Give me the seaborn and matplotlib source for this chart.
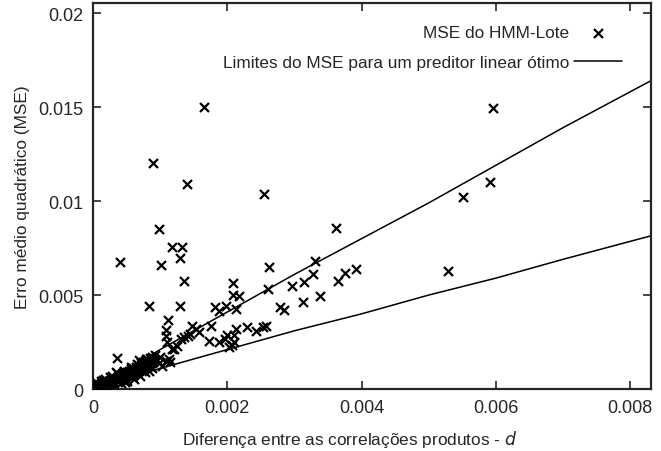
import numpy as np
import pandas as pd
import matplotlib
matplotlib.use("Agg")
import matplotlib.pyplot as plt
import seaborn as sns

# MSE do HMM-Lote (units of 1e-3)
cluster_x = [0.01, 0.02, 0.03, 0.04, 0.05, 0.06, 0.07, 0.08, 0.10, 0.11,
             0.13, 0.14, 0.16, 0.17, 0.19, 0.20, 0.22, 0.24, 0.25, 0.27,
             0.29, 0.30, 0.32, 0.33, 0.35, 0.37, 0.38, 0.40, 0.42, 0.44,
             0.45, 0.47, 0.49, 0.50, 0.52, 0.54, 0.55, 0.57, 0.59, 0.60,
             0.62, 0.64, 0.66, 0.67, 0.69, 0.71, 0.72, 0.74, 0.76, 0.78,
             0.80, 0.81, 0.83, 0.85, 0.86, 0.88, 0.90, 0.92, 0.95, 0.98]
cluster_y = [0.05, 0.02, 0.12, 0.20, 0.02, 0.15, 0.25, 0.08, 0.20, 0.10,
             0.25, 0.14, 0.30, 0.18, 0.35, 0.24, 0.30, 0.42, 0.28, 0.45,
             0.36, 0.52, 0.40, 0.55, 0.48, 0.62, 0.50, 0.70, 0.58, 0.75,
             0.60, 0.82, 0.68, 0.90, 0.72, 0.95, 0.80, 1.05, 0.85, 1.12,
             0.92, 1.20, 1.00, 1.30, 1.05, 1.38, 1.10, 1.45, 1.20, 1.50,
             1.28, 1.60, 1.35, 1.65, 1.20, 1.72, 1.45, 1.80, 1.55, 1.40]

# second, looser layer of the band near the origin
band_x = [0.02, 0.05, 0.08, 0.12, 0.15, 0.18, 0.21, 0.26, 0.31, 0.36,
          0.41, 0.46, 0.51, 0.56, 0.61, 0.65, 0.70, 0.75, 0.79, 0.84,
          0.03, 0.09, 0.15, 0.23, 0.28, 0.34, 0.48, 0.58, 0.68, 0.77]
band_y = [0.30, 0.38, 0.05, 0.45, 0.05, 0.55, 0.12, 0.62, 0.20, 0.85,
          0.30, 0.98, 0.45, 1.20, 0.55, 1.35, 0.70, 1.05, 1.60, 0.95,
          0.00, 0.02, 0.50, 0.10, 0.70, 0.90, 0.40, 0.65, 1.55, 0.90]

outer_x = [1.66, 0.90, 1.40, 2.55, 0.98, 1.18, 1.32, 1.29, 1.02, 0.40,
           1.35, 2.62, 2.09, 2.08, 2.18, 2.61, 2.97, 0.84, 1.29, 1.12,
           1.08, 1.08, 1.81, 1.88, 1.98, 2.13, 2.79, 2.85, 3.14, 3.27,
           3.30, 3.13, 3.38, 1.76, 1.73, 1.88, 2.03, 2.10, 2.13, 2.10,
           2.30, 2.43, 2.53, 2.58, 1.53, 1.48, 1.58, 1.41, 1.31, 1.18,
           1.08, 1.10, 3.62, 3.65, 3.76, 3.92, 5.29, 5.96, 5.91, 5.51,
           0.36, 1.13, 1.21, 1.25, 1.36, 1.44, 1.96, 2.00, 2.07, 0.88,
           1.03, 0.93, 1.14, 1.00]
outer_y = [15.0, 12.0, 10.9, 10.4, 8.5, 7.57, 7.57, 6.95, 6.61, 6.74,
           5.74, 6.47, 5.64, 5.02, 4.95, 5.32, 5.50, 4.41, 4.43, 3.66,
           3.12, 2.80, 4.34, 4.17, 4.40, 4.26, 4.34, 4.22, 5.71, 6.12,
           6.83, 4.61, 4.96, 3.37, 2.57, 2.48, 2.22, 2.48, 3.19, 2.87,
           3.28, 3.10, 3.28, 3.37, 3.19, 3.37, 3.01, 2.84, 2.66, 2.13,
           1.50, 2.50, 8.58, 5.73, 6.17, 6.38, 6.29, 14.93, 11.03, 10.2,
           1.63, 1.60, 2.13, 2.30, 2.75, 2.95, 2.65, 2.85, 2.35, 1.10,
           1.25, 1.55, 1.45, 1.70]

# Limites do MSE para um preditor linear otimo (upper and lower curves)
bound_x = [0.0, 0.001, 0.002, 0.003, 0.004, 0.005, 0.006, 0.007, 0.00831]
upper_y = [0.0, 0.0021, 0.0041, 0.0061, 0.0080, 0.0099, 0.0119, 0.0139, 0.0164]
lower_y = [0.0, 0.0011, 0.0021, 0.0031, 0.0040, 0.0050, 0.0059, 0.0069, 0.00815]

pts = pd.DataFrame({
    "d": np.array(cluster_x + band_x + outer_x) * 1e-3,
    "mse": np.array(cluster_y + band_y + outer_y) * 1e-3,
})
bounds = pd.DataFrame({"d": bound_x, "upper": upper_y, "lower": lower_y})

sns.set_style("ticks")
plt.rcParams["font.family"] = ["Liberation Sans", "DejaVu Sans"]

fig = plt.figure(figsize=(6.61, 4.52), dpi=100)
ax = fig.add_axes([0.1407, 0.137, 0.844, 0.854])

sns.scatterplot(data=pts, x="d", y="mse", marker="x", color="black",
                s=42, linewidth=1.6, label="MSE do HMM-Lote", ax=ax, zorder=3)
sns.lineplot(data=bounds, x="d", y="upper", color="black", linewidth=1.1,
             label="Limites do MSE para um preditor linear ótimo", ax=ax)
sns.lineplot(data=bounds, x="d", y="lower", color="black", linewidth=1.1,
             ax=ax)

ax.set_xlim(0, 0.00831)
ax.set_ylim(0, 0.02053)
ax.set_xticks([0, 0.002, 0.004, 0.006, 0.008])
ax.set_xticklabels(["0", "0.002", "0.004", "0.006", "0.008"])
ax.set_yticks([0, 0.005, 0.01, 0.015, 0.02])
ax.set_yticklabels(["0", "0.005", "0.01", "0.015", "0.02"])
ax.tick_params(direction="in", top=True, right=True, length=6, width=1.2,
               labelsize=13, pad=7)
for sp in ax.spines.values():
    sp.set_linewidth(1.6)

ax.set_xlabel("Diferença entre as correlações produtos - $\\it{d}$", fontsize=12.4)
ax.xaxis.set_label_coords(0.46, -0.1)
ax.set_ylabel("Erro médio quadrático (MSE)", fontsize=12.4, labelpad=6)

ax.legend(loc="upper right", bbox_to_anchor=(1.0, 1.016), frameon=False,
          markerfirst=False, fontsize=12.4, handlelength=2.8,
          handletextpad=0.3, borderaxespad=1.25, labelspacing=0.85)

fig.savefig("out.png", dpi=100)
